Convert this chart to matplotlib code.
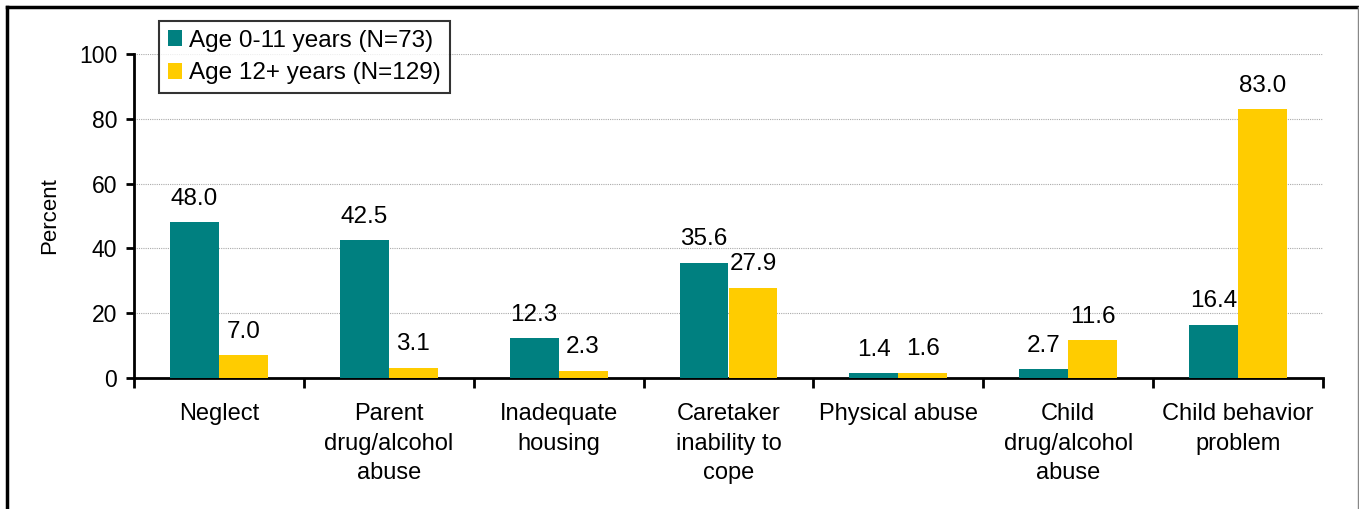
import numpy as np
import matplotlib.pyplot as plt
from matplotlib.lines import Line2D

plt.rcParams['font.family'] = ['Liberation Sans', 'DejaVu Sans']

categories = ["Neglect", "Parent\ndrug/alcohol\nabuse", "Inadequate\nhousing",
              "Caretaker\ninability to\ncope", "Physical abuse",
              "Child\ndrug/alcohol\nabuse", "Child behavior\nproblem"]
age_0_11 = [48.0, 42.5, 12.3, 35.6, 1.4, 2.7, 16.4]
age_12_plus = [7.0, 3.1, 2.3, 27.9, 1.6, 11.6, 83.0]
series_names = ["Age 0-11 years (N=73)", "Age 12+ years (N=129)"]
colors = ["#008080", "#FFCC00"]

W, H = 1359, 509
fig = plt.figure(figsize=(W / 100, H / 100), dpi=100)
ax = fig.add_axes([134 / W, 1 - 378 / H, (1323 - 134) / W, (378 - 54) / H])

x = np.arange(len(categories))
bw = 0.288
b1 = ax.bar(x - bw / 2, age_0_11, bw, color=colors[0], label=series_names[0], zorder=3)
b2 = ax.bar(x + bw / 2, age_12_plus, bw, color=colors[1], label=series_names[1], zorder=3)

for bars, vals in ((b1, age_0_11), (b2, age_12_plus)):
    for rect, v in zip(bars, vals):
        ax.annotate(f"{v:.1f}", (rect.get_x() + rect.get_width() / 2, v),
                    xytext=(0, 9), textcoords="offset points",
                    ha="center", va="bottom", fontsize=17.5)

ax.set_xlim(-0.5, len(categories) - 0.5)
ax.set_ylim(0, 100)
ax.set_yticks(range(0, 101, 20))
ax.yaxis.grid(True, color="#aaaaaa", linestyle=(0, (1, 1)), linewidth=0.8, zorder=0)
ax.set_axisbelow(True)

# category labels centred, ticks at the boundaries
ax.set_xticks(x)
ax.set_xticklabels(categories, fontsize=17, linespacing=1.45)
ax.tick_params(axis="x", which="major", length=0, pad=18)
ax.set_xticks(np.arange(-0.5, len(categories), 1), minor=True)
ax.tick_params(axis="x", which="minor", length=7, width=2, direction="out")
ax.tick_params(axis="y", length=6, width=2, labelsize=16.5, pad=6)

for s in ("top", "right"):
    ax.spines[s].set_visible(False)
for s in ("left", "bottom"):
    ax.spines[s].set_linewidth(2)

ax.set_ylabel("Percent", fontsize=16, labelpad=14)

leg = fig.legend(loc="upper left", bbox_to_anchor=(159 / W, 1 - 21 / H),
                 fontsize=17.5, frameon=True, fancybox=False, edgecolor="black",
                 handlelength=0.6, handleheight=0.6, handletextpad=0.3,
                 borderpad=0.35, labelspacing=0.45, borderaxespad=0)
leg.get_frame().set_linewidth(1.5)

# outer frame of the figure
fig.add_artist(Line2D([7 / W, 7 / W], [-0.1, 1 - 7 / H], color="black", lw=2.5))
fig.add_artist(Line2D([7 / W, 1358 / W], [1 - 7 / H, 1 - 7 / H], color="black", lw=2.5))
fig.add_artist(Line2D([1358 / W, 1358 / W], [-0.1, 1 - 7 / H], color="#888888", lw=1))

fig.savefig("out.png", dpi=100)
